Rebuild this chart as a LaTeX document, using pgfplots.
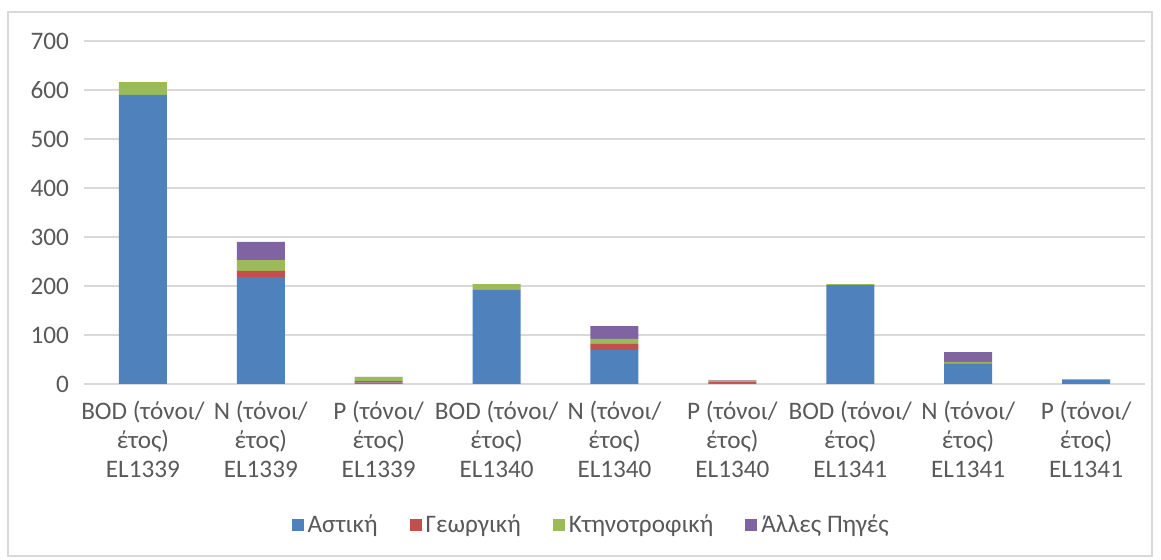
\documentclass[border=0pt]{standalone}
\usepackage{pgfplots}
\pgfplotsset{compat=1.18}
\usepackage{fontspec}
\setmainfont{Carlito}
\definecolor{astiki}{HTML}{4F81BD}
\definecolor{georgiki}{HTML}{C0504D}
\definecolor{ktin}{HTML}{9BBB59}
\definecolor{alles}{HTML}{8064A2}
\definecolor{txt}{HTML}{595959}
\definecolor{grd}{HTML}{D9D9D9}
\begin{document}
\begin{tikzpicture}
\useasboundingbox (-42pt,-88pt) rectangle (538.5pt,192pt);
\draw[grd, line width=0.6pt] (-38pt,-86pt) rectangle (534pt,186pt);
\begin{axis}[
  at={(0,0)}, anchor=south west,
  scale only axis,
  width=530.5pt, height=171.5pt,
  ybar stacked,
  bar width=24pt,
  xmin=-0.5, xmax=8.5,
  ymin=0, ymax=700,
  ytick={0,100,...,700},
  xtick=data,
  xticklabels={{BOD (τόνοι/\\έτος)\\EL1339},{N (τόνοι/\\έτος)\\EL1339},{P (τόνοι/\\έτος)\\EL1339},
    {BOD (τόνοι/\\έτος)\\EL1340},{N (τόνοι/\\έτος)\\EL1340},{P (τόνοι/\\έτος)\\EL1340},
    {BOD (τόνοι/\\έτος)\\EL1341},{N (τόνοι/\\έτος)\\EL1341},{P (τόνοι/\\έτος)\\EL1341}},
  xticklabel style={align=center, font=\fontsize{12.6}{14.5}\selectfont, text=txt, yshift=-5pt},
  yticklabel style={font=\fontsize{12.6}{14.5}\selectfont, text=txt, xshift=-4pt},
  /pgf/number format/assume math mode=true,
  major tick length=0pt,
  axis line style={draw=none},
  ymajorgrids,
  grid style={grd, line width=0.8pt},
  legend style={at={(0.479,-0.411)}, anchor=center, legend columns=4, draw=none,
    font=\fontsize{12.6}{14.5}\selectfont, text=txt,
    /tikz/every even column/.append style={column sep=14pt}},
  legend image code/.code={\fill[#1] (0pt,-3pt) rectangle (6pt,3pt);},
]
\addplot[fill=astiki, draw=none] coordinates {(0,590) (1,218) (2,3) (3,192) (4,69) (5,2) (6,202) (7,42) (8,8)};
\addplot[fill=georgiki, draw=none] coordinates {(0,0) (1,13) (2,3) (3,0) (4,13) (5,2) (6,0) (7,1) (8,0.5)};
\addplot[fill=ktin, draw=none] coordinates {(0,26) (1,22) (2,8) (3,12) (4,10) (5,3) (6,2) (7,2) (8,1)};
\addplot[fill=alles, draw=none] coordinates {(0,0) (1,37) (2,0.5) (3,0) (4,26) (5,1) (6,0) (7,20) (8,0.5)};
\legend{Αστική, Γεωργική, Κτηνοτροφική, Άλλες Πηγές}
\end{axis}
\end{tikzpicture}
\end{document}
